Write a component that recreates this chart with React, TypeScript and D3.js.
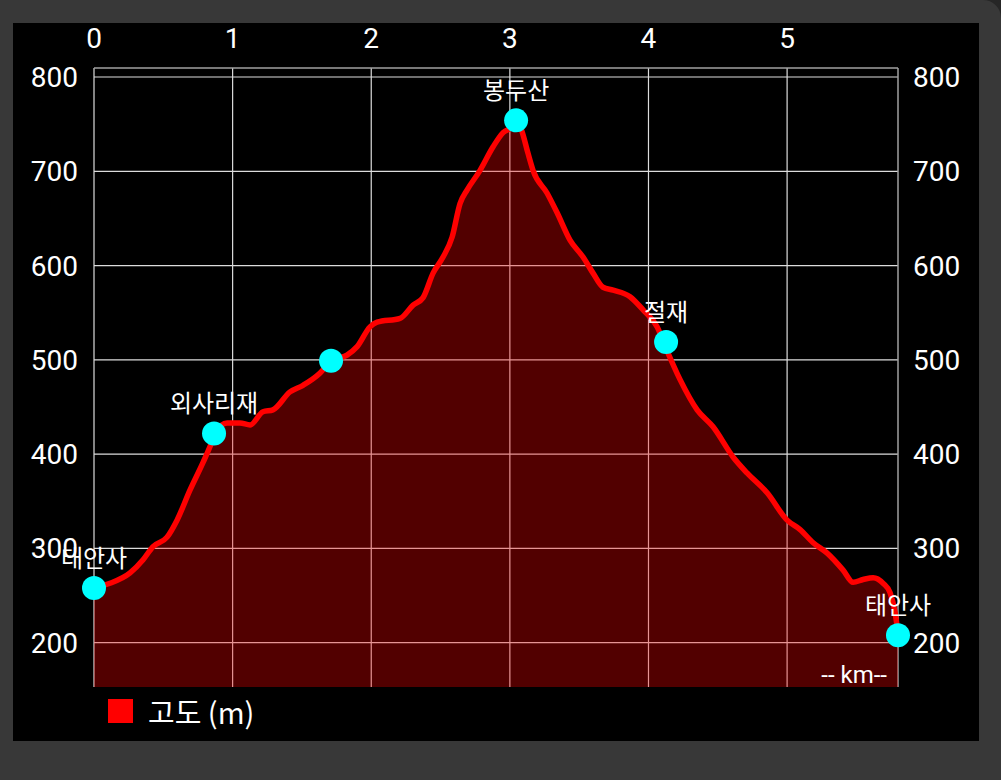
import React from "react";
import * as d3 from "d3";

// distance along route (km)
const distKm = [0, 0.115, 0.26, 0.354, 0.426, 0.527, 0.599, 0.693, 0.786, 0.837, 0.873, 0.96, 1.053, 1.126, 1.219, 1.291, 1.414, 1.508, 1.631, 1.71, 1.825, 1.898, 1.991, 2.042, 2.208, 2.302, 2.374, 2.446, 2.518, 2.583, 2.641, 2.691, 2.785, 2.879, 2.951, 3.016, 3.052, 3.088, 3.131, 3.167, 3.268, 3.341, 3.434, 3.528, 3.6, 3.672, 3.745, 3.867, 3.961, 4.062, 4.13, 4.228, 4.351, 4.466, 4.61, 4.711, 4.856, 5.0, 5.094, 5.188, 5.289, 5.404, 5.476, 5.548, 5.621, 5.693, 5.743, 5.779, 5.8];
// elevation (m)
const elevation = [258, 263, 274, 288, 302, 312, 330, 362, 391, 408, 422, 433, 433, 431, 445, 447, 466, 473, 486, 499, 505, 514, 535, 540, 544, 558, 566, 592, 609, 630, 666, 680, 701, 726, 741, 747, 754, 742, 719, 701, 677, 656, 627, 609, 592, 577, 574, 567, 553, 535, 511, 479, 447, 429, 397, 380, 359, 330, 320, 306, 295, 277, 264, 267, 269, 263, 253, 232, 210];

// waypoints
const wpNames = ["태안사", "외사리재", "", "봉두산", "절재", "태안사"];
const wpKm = [0, 0.866, 1.71, 3.045, 4.127, 5.8];
const wpElev = [258, 422, 499, 754, 519, 208];

const xTicks = [0, 1, 2, 3, 4, 5];
const yTicks = [200, 300, 400, 500, 600, 700, 800];
const legendLabel = "고도 (m)";
const xUnitLabel = "-- km--";

export default function App() {
  const left = 94, right = 898, top = 68, bottom = 687;
  const x = d3.scaleLinear().domain([0, 5.8]).range([left, right]);
  const y = d3.scaleLinear().domain([800, 200]).range([77, 642.7]);
  const yMin = y.invert(bottom);

  const pts = distKm.map((d, i) => [d, elevation[i]] as [number, number]);
  const line = d3.line<[number, number]>().x(d => x(d[0])).y(d => y(d[1])).curve(d3.curveMonotoneX);
  const area = d3.area<[number, number]>().x(d => x(d[0])).y0(y(yMin)).y1(d => y(d[1])).curve(d3.curveMonotoneX);

  const num = "Roboto, 'Noto Sans', sans-serif";
  const kor = "'Noto Sans CJK KR', Roboto, sans-serif";

  return (
    <div style={{ position: "fixed", left: 0, top: 0, width: 1001, height: 780 }}>
      <svg width={1001} height={780} style={{ display: "block" }}>
        <rect x={0} y={0} width={1001} height={780} fill="#383838" />
        <path d="M 983 0 A 18 18 0 0 1 1001 18 L 1001 0 Z" fill="#262626" />
        <rect x={13} y={23} width={966} height={718} fill="#000" />

        {/* grid */}
        {yTicks.map(t => (
          <line key={"gy" + t} x1={left} x2={right} y1={y(t)} y2={y(t)} stroke="#dcdcdc" strokeWidth={1.2} />
        ))}
        {xTicks.map(t => (
          <line key={"gx" + t} x1={x(t)} x2={x(t)} y1={top} y2={bottom} stroke="#dcdcdc" strokeWidth={1.2} />
        ))}
        <line x1={left} x2={right} y1={top} y2={top} stroke="#a0a0a0" strokeWidth={1.5} />
        <line x1={right} x2={right} y1={top} y2={bottom} stroke="#a0a0a0" strokeWidth={1.5} />

        {/* area + line */}
        <path d={area(pts) || ""} fill="rgba(255,0,0,0.32)" />
        <path d={line(pts) || ""} fill="none" stroke="#ff0000" strokeWidth={5.5} strokeLinejoin="round" strokeLinecap="round" />

        {/* axis labels */}
        {xTicks.map(t => (
          <text key={"xl" + t} x={x(t)} y={48} fill="#fff" fontSize={28} fontFamily={num} textAnchor="middle">{t}</text>
        ))}
        {yTicks.map(t => (
          <text key={"yl" + t} x={78} y={y(t) + 10} fill="#fff" fontSize={28} fontFamily={num} textAnchor="end">{t}</text>
        ))}
        {yTicks.map(t => (
          <text key={"yr" + t} x={913} y={y(t) + 10} fill="#fff" fontSize={28} fontFamily={num} textAnchor="start">{t}</text>
        ))}

        {/* waypoints */}
        {wpKm.map((k, i) => (
          <circle key={"wp" + i} cx={x(k)} cy={y(wpElev[i])} r={12} fill="#00ffff" />
        ))}
        {wpKm.map((k, i) => (
          wpNames[i] ? (
            <text key={"wn" + i} x={x(k)} y={y(wpElev[i]) - 21} fill="#fff" fontSize={24} fontFamily={kor} textAnchor="middle">{wpNames[i]}</text>
          ) : null
        ))}

        <text x={887} y={683} fill="#fff" fontSize={24} fontFamily={num} textAnchor="end">{xUnitLabel}</text>

        {/* legend */}
        <rect x={108} y={699} width={25} height={24} fill="#ff0000" />
        <text x={148} y={724} fill="#fff" fontSize={29} fontFamily={kor}>{legendLabel}</text>
      </svg>
    </div>
  );
}
